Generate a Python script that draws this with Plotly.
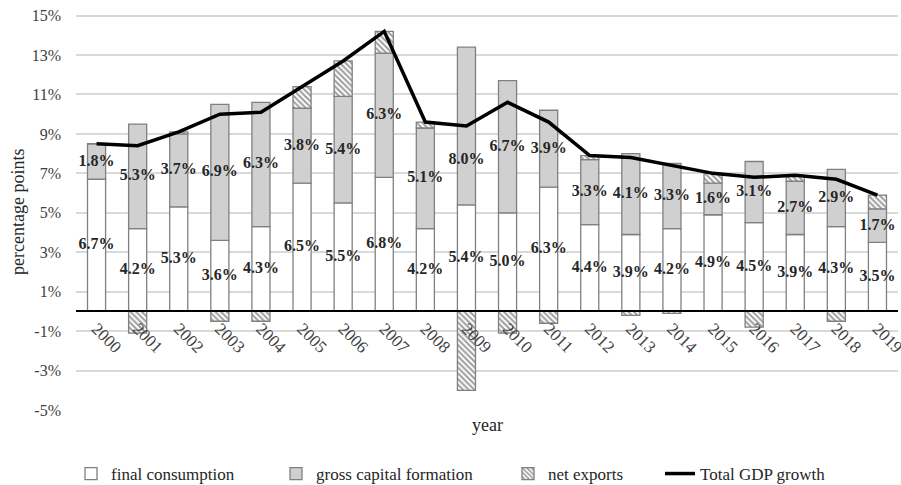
import plotly.graph_objects as go

years = [str(y) for y in range(2000, 2020)]
final_consumption = [6.7, 4.2, 5.3, 3.6, 4.3, 6.5, 5.5, 6.8, 4.2, 5.4, 5.0, 6.3, 4.4, 3.9, 4.2, 4.9, 4.5, 3.9, 4.3, 3.5]
gross_capital = [1.8, 5.3, 3.7, 6.9, 6.3, 3.8, 5.4, 6.3, 5.1, 8.0, 6.7, 3.9, 3.3, 4.1, 3.3, 1.6, 3.1, 2.7, 2.9, 1.7]
net_exports = [0.0, -1.1, 0.1, -0.5, -0.5, 1.1, 1.8, 1.1, 0.3, -4.0, -1.1, -0.6, 0.2, -0.2, -0.1, 0.5, -0.8, 0.3, -0.5, 0.7]
gdp_growth = [8.5, 8.4, 9.1, 10.0, 10.1, 11.4, 12.7, 14.2, 9.6, 9.4, 10.6, 9.6, 7.9, 7.8, 7.4, 7.0, 6.8, 6.9, 6.7, 5.9]
y_tickvals = [-5, -3, -1, 1, 3, 5, 7, 9, 11, 13, 15]
y_ticktext = ["-5%", "-3%", "-1%", "1%", "3%", "5%", "7%", "9%", "11%", "13%", "15%"]

SERIF = "Liberation Serif"
EDGE = dict(color="#808080", width=1.3)
W, H = 901, 485
# the reference moved the 2009 capital-formation label down, clear of the GDP line
GC_LABEL_NUDGE = {"2009": -1.7}

fig = go.Figure()
fig.add_trace(go.Bar(x=years, y=final_consumption, name="final consumption", legend="legend",
                     marker=dict(color="white", line=EDGE)))
fig.add_trace(go.Bar(x=years, y=gross_capital, name="gross capital formation", legend="legend2",
                     marker=dict(color="#d0d0d0", line=EDGE)))
fig.add_trace(go.Bar(x=years, y=net_exports, name="net exports", legend="legend3",
                     marker=dict(color="white", line=EDGE,
                                 pattern=dict(shape="\\", fgcolor="#3a3a3a", bgcolor="white",
                                              size=4, solidity=0.5))))
fig.add_trace(go.Scatter(x=years, y=gdp_growth, name="Total GDP growth", mode="lines", legend="legend4",
                         line=dict(color="black", width=3.5)))

fc_mid = [v / 2 for v in final_consumption]
gc_mid = [f + g / 2 + GC_LABEL_NUDGE.get(yr, 0)
          for yr, f, g in zip(years, final_consumption, gross_capital)]
label_font = dict(family=SERIF, size=16, color="#262626")
fig.add_trace(go.Scatter(x=years, y=fc_mid, mode="text", showlegend=False, hoverinfo="skip",
                         text=[f"<b>{v:.1f}%</b>" for v in final_consumption], textfont=label_font))
fig.add_trace(go.Scatter(x=years, y=gc_mid, mode="text", showlegend=False, hoverinfo="skip",
                         text=[f"<b>{v:.1f}%</b>" for v in gross_capital], textfont=label_font))

def leg(px):
    return dict(orientation="h", xref="container", yref="container",
                x=px / W, xanchor="left", y=1 - 474 / H, yanchor="middle",
                font=dict(family=SERIF, size=17, color="#262626"),
                itemwidth=30, bgcolor="rgba(0,0,0,0)")

y_min, y_max = -5, 15
fig.update_layout(
    width=W, height=H,
    margin=dict(l=76, r=3, t=14, b=75, autoexpand=False),
    paper_bgcolor="white", plot_bgcolor="white",
    barmode="relative", bargap=0.56,
    font=dict(family=SERIF, size=15, color="#404040"),
    showlegend=True,
    legend=leg(71), legend2=leg(276), legend3=leg(508), legend4=leg(660),
    xaxis=dict(type="category", range=[-0.5, len(years) - 0.5],
               anchor="free", position=(0 - y_min) / (y_max + 0.08 - y_min),
               showline=True, linecolor="black", linewidth=1.5, ticks="",
               tickangle=45, tickfont=dict(family=SERIF, size=17, color="#404040"),
               ticklabeloverflow="allow",
               showgrid=False, automargin=False),
    yaxis=dict(range=[y_min, y_max + 0.08], tickvals=y_tickvals, ticktext=y_ticktext,
               showgrid=True, gridcolor="#d9d9d9", gridwidth=1.5,
               zeroline=True, zerolinecolor="black", zerolinewidth=1.5,
               ticks="", ticklabelstandoff=14, automargin=False,
               ticklabeloverflow="allow",
               tickfont=dict(family=SERIF, size=16, color="#404040")),
    annotations=[
        dict(text="percentage points", xref="paper", yref="paper", x=0, y=0.5,
             xanchor="center", yanchor="middle",
             xshift=-58, textangle=-90, showarrow=False,
             font=dict(family=SERIF, size=18, color="#262626")),
        dict(text="year", xref="paper", yref="paper", x=0.5, y=-0.038,
             xanchor="center", yanchor="middle",
             showarrow=False, font=dict(family=SERIF, size=18, color="#262626")),
    ],
)

# drop the page's default 8px body margin so the 901x485 figure fills the window
fig.write_html("out.html", config={"displayModeBar": False},
               post_script="document.body.style.margin='0';")
